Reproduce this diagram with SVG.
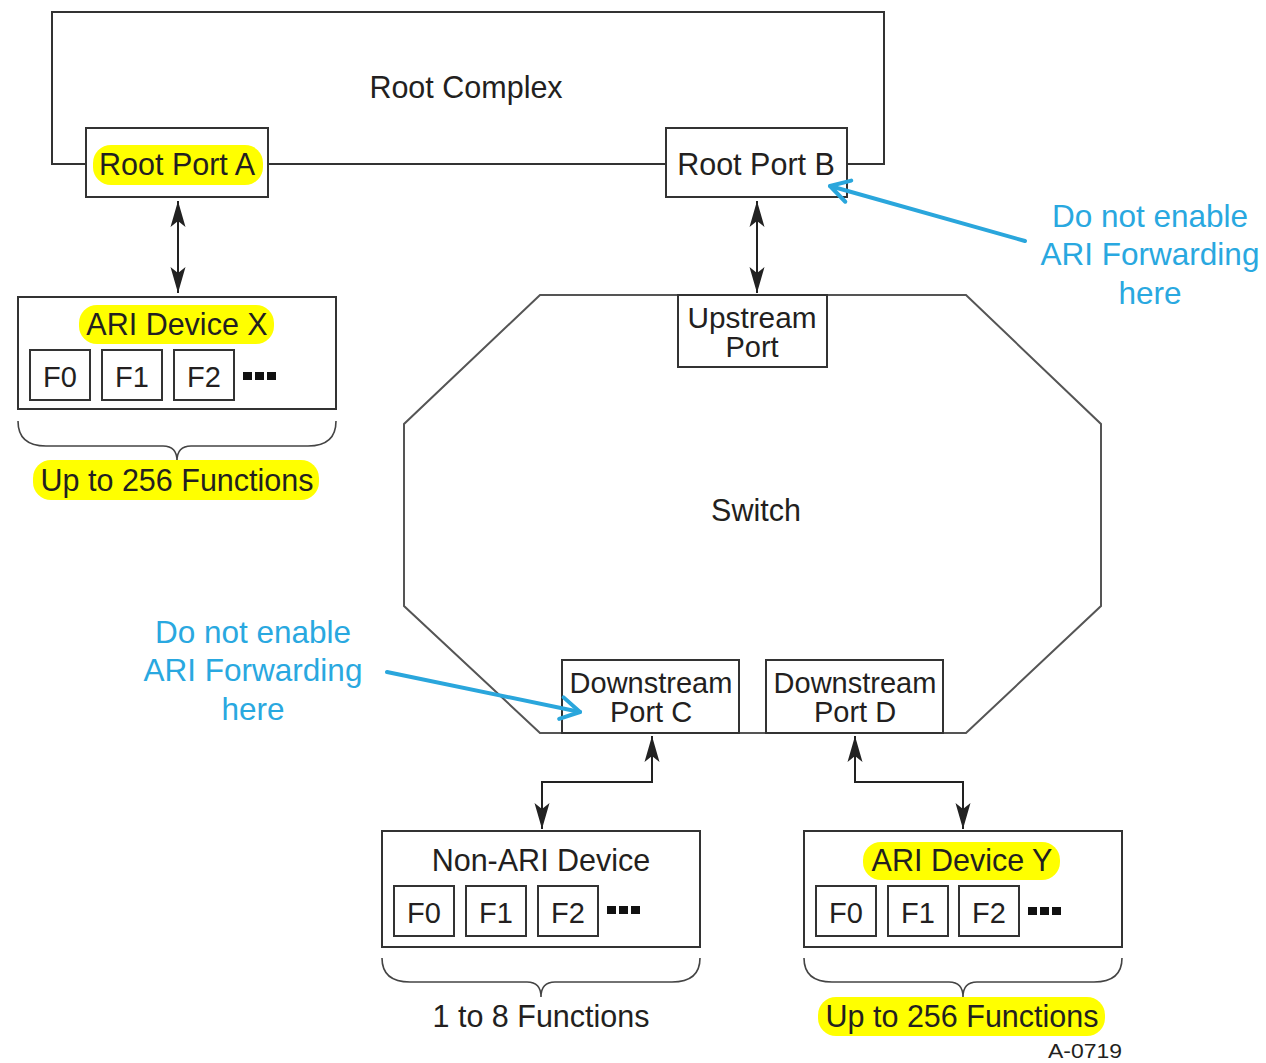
<svg xmlns="http://www.w3.org/2000/svg" width="1266" height="1063" viewBox="0 0 1266 1063">
<defs>
<style>
.box{fill:#fff;stroke:#333;stroke-width:2}
.frame{fill:none;stroke:#333;stroke-width:2}
.oct{fill:#fff;stroke:#555;stroke-width:2}
.t{font-family:"Liberation Sans",Arial,sans-serif;font-size:30.5px;fill:#231f20;text-anchor:middle}
.f{font-size:29px}
.ds{font-size:29px}
.blue{font-family:"Liberation Sans",Arial,sans-serif;font-size:31.5px;fill:#29a8e0;text-anchor:middle}
.hl{fill:#ffff00}
.brace{fill:none;stroke:#444;stroke-width:1.6}
.conn{fill:none;stroke:#222;stroke-width:2}
.barrow{fill:none;stroke:#2aa6dc;stroke-width:4;stroke-linecap:round}
.dot{fill:#111}
</style>
<marker id="ah" markerUnits="userSpaceOnUse" markerWidth="30" markerHeight="20" viewBox="-26 -10 30 20" refX="0" refY="0" orient="auto-start-reverse">
<path d="M0,0 L-26,-7.5 L-20,0 L-26,7.5 Z" fill="#222"/>
</marker>
<marker id="bh" markerUnits="userSpaceOnUse" markerWidth="30" markerHeight="30" viewBox="-25 -15 30 30" refX="0" refY="0" orient="auto">
<path d="M-19,-11 L0,0 L-19,11" fill="none" stroke="#2aa6dc" stroke-width="4" stroke-linecap="round" stroke-linejoin="round"/>
</marker>
</defs>
<rect width="1266" height="1063" fill="#fff"/>

<g id="root-complex">
<path class="frame" d="M86,164 H52 V12 H884 V164 H847 M268,164 H666"/>
<text class="t" x="466" y="98">Root Complex</text>
</g>

<g id="root-port-a">
<rect class="box" x="86" y="128" width="182" height="69"/>
<rect class="hl" x="93" y="145" width="170" height="40" rx="18"/>
<text class="t" x="177" y="175">Root Port A</text>
</g>

<g id="root-port-b">
<rect class="box" x="666" y="128" width="181" height="69"/>
<text class="t" x="756" y="175">Root Port B</text>
</g>

<g id="switch">
<polygon class="oct" points="540,295 966,295 1101,424 1101,606 966,733 540,733 404,606 404,424"/>
<text class="t" x="756" y="521">Switch</text>
</g>

<g id="upstream-port">
<rect class="box" x="678" y="295" width="149" height="72"/>
<text class="t ds" x="752" y="328" textLength="129" lengthAdjust="spacingAndGlyphs">Upstream</text>
<text class="t ds" x="752" y="357">Port</text>
</g>

<g id="downstream-port-c">
<rect class="box" x="562" y="660" width="177" height="73"/>
<text class="t ds" x="651" y="693">Downstream</text>
<text class="t ds" x="651" y="722">Port C</text>
</g>

<g id="downstream-port-d">
<rect class="box" x="766" y="660" width="177" height="73"/>
<text class="t ds" x="855" y="693">Downstream</text>
<text class="t ds" x="855" y="722">Port D</text>
</g>

<g id="ari-device-x">
<rect class="box" x="18" y="297" width="318" height="112"/>
<rect class="hl" x="79" y="305" width="195" height="39" rx="18"/>
<text class="t" x="177" y="335">ARI Device X</text>
<rect class="box" x="30" y="350" width="60" height="50"/>
<rect class="box" x="102" y="350" width="60" height="50"/>
<rect class="box" x="174" y="350" width="60" height="50"/>
<text class="t f" x="60" y="387">F0</text>
<text class="t f" x="132" y="387">F1</text>
<text class="t f" x="204" y="387">F2</text>
<rect class="dot" x="243" y="372" width="9" height="8"/>
<rect class="dot" x="255" y="372" width="9" height="8"/>
<rect class="dot" x="267" y="372" width="9" height="8"/>
<path class="brace" d="M18,421 Q18,446 46,446 L163,446 Q177,446 177,461 Q177,446 191,446 L308,446 Q336,446 336,421"/>
<rect class="hl" x="33" y="460" width="286" height="40" rx="18"/>
<text class="t" x="177" y="491">Up to 256 Functions</text>
</g>

<g id="non-ari-device">
<rect class="box" x="382" y="831" width="318" height="116"/>
<text class="t" x="541" y="871">Non-ARI Device</text>
<rect class="box" x="394" y="886" width="60" height="50"/>
<rect class="box" x="466" y="886" width="60" height="50"/>
<rect class="box" x="538" y="886" width="60" height="50"/>
<text class="t f" x="424" y="923">F0</text>
<text class="t f" x="496" y="923">F1</text>
<text class="t f" x="568" y="923">F2</text>
<rect class="dot" x="607" y="906" width="9" height="8"/>
<rect class="dot" x="619" y="906" width="9" height="8"/>
<rect class="dot" x="631" y="906" width="9" height="8"/>
<path class="brace" d="M382,958 Q382,982 410,982 L527,982 Q541,982 541,997 Q541,982 555,982 L672,982 Q700,982 700,958"/>
<text class="t" x="541" y="1027">1 to 8 Functions</text>
</g>

<g id="ari-device-y">
<rect class="box" x="804" y="831" width="318" height="116"/>
<rect class="hl" x="863" y="842" width="197" height="38" rx="18"/>
<text class="t" x="962" y="871">ARI Device Y</text>
<rect class="box" x="816" y="886" width="60" height="50"/>
<rect class="box" x="888" y="886" width="60" height="50"/>
<rect class="box" x="959" y="886" width="60" height="50"/>
<text class="t f" x="846" y="923">F0</text>
<text class="t f" x="918" y="923">F1</text>
<text class="t f" x="989" y="923">F2</text>
<rect class="dot" x="1028" y="907" width="9" height="8"/>
<rect class="dot" x="1040" y="907" width="9" height="8"/>
<rect class="dot" x="1052" y="907" width="9" height="8"/>
<path class="brace" d="M804,958 Q804,982 832,982 L949,982 Q963,982 963,997 Q963,982 977,982 L1094,982 Q1122,982 1122,958"/>
<rect class="hl" x="818" y="997" width="287" height="39" rx="18"/>
<text class="t" x="962" y="1027">Up to 256 Functions</text>
</g>

<g id="connectors">
<path class="conn" d="M178,201 V293" marker-start="url(#ah)" marker-end="url(#ah)"/>
<path class="conn" d="M757,201 V293" marker-start="url(#ah)" marker-end="url(#ah)"/>
<path class="conn" d="M652,736 V782 H542 V829" marker-start="url(#ah)" marker-end="url(#ah)"/>
<path class="conn" d="M855,736 V782 H963 V829" marker-start="url(#ah)" marker-end="url(#ah)"/>
</g>

<g id="annotations">
<path class="barrow" d="M1025,241 L830,186" marker-end="url(#bh)"/>
<text class="blue" x="1150" y="227">Do not enable</text>
<text class="blue" x="1150" y="265">ARI Forwarding</text>
<text class="blue" x="1150" y="304">here</text>
<path class="barrow" d="M387,672 L580,712" marker-end="url(#bh)"/>
<text class="blue" x="253" y="643">Do not enable</text>
<text class="blue" x="253" y="681">ARI Forwarding</text>
<text class="blue" x="253" y="720">here</text>
</g>

<text x="1085" y="1058" textLength="74" lengthAdjust="spacingAndGlyphs" style="font-family:'Liberation Sans',Arial,sans-serif;font-size:20px;fill:#231f20;text-anchor:middle">A-0719</text>
</svg>
